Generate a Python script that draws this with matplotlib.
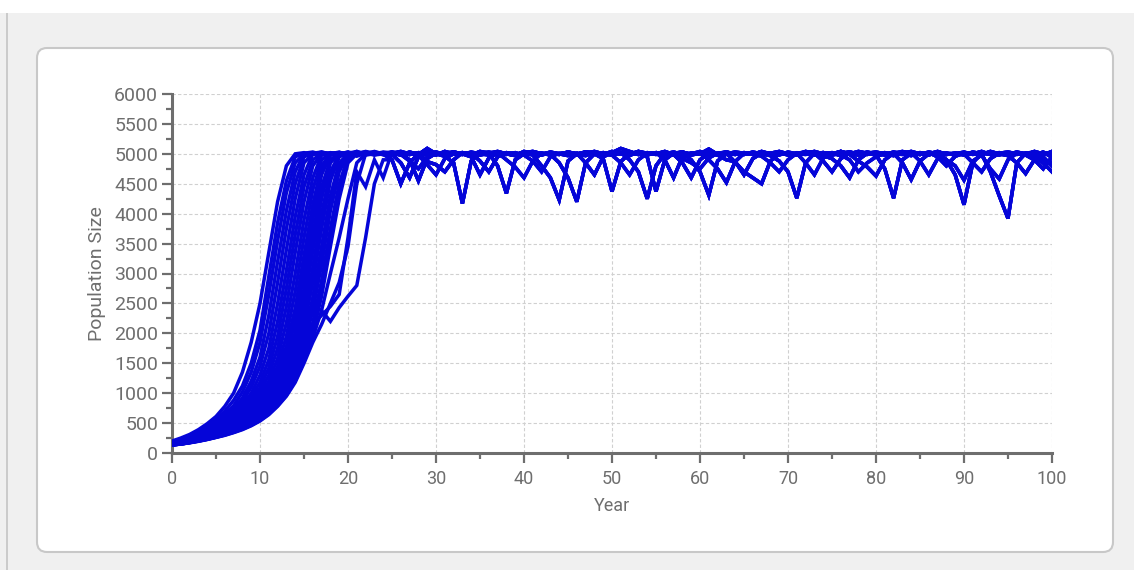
import matplotlib
matplotlib.use("Agg")
import matplotlib.pyplot as plt
from matplotlib.patches import FancyBboxPatch, Rectangle
from matplotlib.lines import Line2D
from matplotlib.ticker import MultipleLocator
from matplotlib.transforms import IdentityTransform
from matplotlib import font_manager

# ---- Data: simulated population runs ----
years = list(range(0, 101))

# growth phase, years 0..24 (fastest run first)
growth = [
    [200, 250, 310, 390, 490, 610, 780, 1000, 1350, 1850, 2500, 3350, 4200, 4800, 5000, 5020, 4990, 5030, 5000, 5010, 4980, 5040, 5000, 4990, 5020],
    [190, 235, 295, 365, 455, 560, 700, 880, 1120, 1500, 2050, 2950, 3850, 4550, 4950, 5010, 5030, 4990, 5000, 5020, 4970, 5010, 5030, 4990, 5000],
    [180, 225, 280, 345, 425, 520, 640, 790, 1020, 1350, 1850, 2650, 3550, 4350, 4850, 5000, 4990, 5020, 5000, 5030, 4980, 5000, 5040, 5010, 4990],
    [175, 215, 265, 325, 400, 490, 600, 735, 920, 1200, 1600, 2300, 3200, 4050, 4700, 5000, 5020, 4990, 5010, 5000, 5030, 4960, 5010, 5000, 5020],
    [170, 205, 255, 310, 380, 460, 560, 690, 860, 1100, 1450, 2000, 2850, 3750, 4500, 4950, 5010, 5030, 4990, 5000, 5010, 5040, 4980, 5000, 5010],
    [165, 200, 245, 300, 365, 440, 530, 650, 800, 1000, 1300, 1750, 2500, 3400, 4250, 4850, 5000, 5020, 4990, 5010, 4970, 5000, 5030, 5000, 4990],
    [165, 195, 240, 290, 350, 420, 510, 620, 760, 940, 1180, 1560, 2200, 3050, 3950, 4650, 5000, 4990, 5020, 5000, 5010, 4990, 5000, 5040, 5000],
    [160, 190, 230, 280, 335, 400, 485, 590, 720, 880, 1090, 1420, 1950, 2750, 3650, 4450, 4900, 5010, 4980, 5020, 5000, 5010, 4990, 5000, 5030],
    [155, 185, 225, 270, 320, 380, 460, 560, 680, 830, 1020, 1300, 1750, 2450, 3350, 4200, 4800, 5000, 5010, 4990, 5030, 5000, 5010, 4980, 5000],
    [155, 180, 220, 265, 310, 365, 440, 535, 645, 790, 960, 1200, 1580, 2180, 3000, 3900, 4600, 4980, 5000, 5020, 4990, 5000, 5010, 5030, 4990],
    [150, 175, 210, 255, 300, 350, 420, 510, 615, 745, 905, 1120, 1450, 1950, 2700, 3600, 4400, 4900, 5010, 5000, 5010, 4980, 5000, 5010, 5020],
    [150, 175, 205, 245, 290, 335, 400, 485, 585, 705, 855, 1050, 1340, 1780, 2420, 3300, 4150, 4800, 5000, 5010, 5000, 5020, 4990, 5000, 5010],
    [148, 172, 202, 242, 285, 328, 392, 472, 570, 688, 832, 1020, 1295, 1705, 2310, 3150, 4030, 4730, 4990, 5000, 5010, 4990, 5000, 5020, 5000],
    [145, 170, 200, 240, 280, 320, 385, 460, 555, 670, 810, 990, 1250, 1630, 2200, 3000, 3900, 4650, 4980, 5010, 5020, 5000, 5010, 4990, 5000],
    [145, 165, 195, 230, 270, 310, 370, 440, 530, 635, 765, 935, 1170, 1510, 2020, 2750, 3650, 4450, 4900, 5010, 4980, 5010, 5000, 5030, 5000],
    [142, 165, 192, 228, 265, 305, 362, 430, 518, 620, 745, 910, 1135, 1455, 1935, 2625, 3515, 4350, 4880, 5000, 5020, 4990, 5010, 5000, 4990],
    [140, 165, 190, 225, 260, 300, 355, 420, 505, 605, 725, 885, 1100, 1400, 1850, 2500, 3380, 4250, 4850, 5000, 5010, 5000, 4990, 5010, 5000],
    [140, 160, 185, 220, 255, 290, 340, 400, 480, 575, 690, 840, 1040, 1310, 1720, 2300, 3100, 4000, 4700, 4990, 4990, 5020, 5000, 5000, 5010],
    [140, 160, 185, 218, 252, 288, 335, 395, 470, 562, 672, 818, 1010, 1270, 1660, 2210, 2975, 3875, 4630, 4970, 5000, 5010, 4990, 5000, 5020],
    [140, 160, 185, 215, 250, 285, 330, 390, 460, 550, 655, 795, 980, 1230, 1600, 2120, 2850, 3750, 4550, 4950, 5010, 5000, 5010, 4990, 5000],
    [135, 155, 180, 210, 245, 280, 325, 380, 445, 525, 625, 755, 930, 1160, 1500, 1950, 2600, 3450, 4300, 4850, 5000, 5010, 5000, 5020, 4990],
    [135, 155, 180, 210, 242, 278, 322, 375, 438, 515, 612, 738, 905, 1125, 1450, 1875, 2490, 3300, 4175, 4780, 5000, 5010, 5000, 4990, 5010],
    [135, 155, 180, 210, 240, 275, 320, 370, 430, 505, 600, 720, 880, 1090, 1400, 1800, 2380, 3150, 4050, 4700, 4990, 4990, 5020, 5000, 5010],
    [135, 150, 175, 205, 235, 270, 310, 360, 415, 485, 575, 690, 840, 1030, 1310, 1680, 2180, 2880, 3750, 4500, 4950, 5000, 4990, 5000, 5020],
    [135, 150, 175, 202, 232, 268, 308, 355, 410, 478, 565, 675, 820, 1005, 1270, 1625, 2090, 2750, 3600, 4375, 4900, 5000, 5010, 5000, 4990],
    [135, 150, 175, 200, 230, 265, 305, 350, 405, 470, 555, 660, 800, 980, 1230, 1570, 2000, 2620, 3450, 4250, 4850, 5000, 5020, 4990, 5000],
    [135, 150, 172, 198, 228, 262, 300, 345, 398, 462, 545, 650, 790, 965, 1205, 1535, 1925, 2385, 3000, 3600, 4250, 4850, 5000, 5010, 4990],
    [135, 150, 170, 195, 225, 260, 295, 340, 390, 455, 535, 640, 780, 950, 1180, 1500, 1850, 2150, 2500, 2850, 3450, 4500, 5000, 4990, 5000],
    [145, 170, 195, 230, 270, 315, 375, 445, 535, 645, 780, 950, 1150, 1450, 1800, 2200, 2450, 2380, 2200, 2430, 2620, 2800, 3600, 4500, 4900],
    [140, 160, 185, 215, 250, 290, 340, 400, 470, 560, 670, 810, 1000, 1300, 1650, 1950, 2150, 2300, 2450, 2650, 3600, 4700, 4450, 4900, 4600],
]

# steady phase, years 25..100
plateau = [
    [5010, 4980, 5030, 4990, 5090, 5000, 4960, 4850, 4170, 4880,
     5020, 4990, 5030, 5000, 4970, 5040, 5010, 4980, 5020, 4990,
     5030, 5000, 4970, 5020, 4990, 5040, 5000, 4980, 5030, 4950,
     4370, 4900, 5010, 5030, 4990, 5000, 5040, 4980, 5020, 5000,
     4990, 5030, 5000, 4970, 4880, 4700, 4260, 4850, 5010, 5020,
     4990, 5040, 5000, 4980, 5020, 5010, 4990, 5030, 5000, 4970,
     5020, 5000, 5040, 4990, 5010, 4980, 5030, 5000, 4700, 4300,
     3920, 4850, 5010, 4980, 5030, 4940],
    [4990, 4850, 4600, 4950, 5010, 5030, 4990, 5020, 5000, 4980,
     5040, 5010, 4800, 4340, 4900, 5000, 5020, 4990, 5030, 5000,
     4970, 5010, 4850, 4650, 4950, 5020, 5090, 5040, 4990, 5010,
     5000, 5030, 4980, 5010, 4900, 4700, 4310, 4880, 5000, 5030,
     5010, 4990, 5040, 5000, 5020, 4980, 5010, 5030, 4990, 5000,
     5020, 4970, 5000, 5040, 5010, 4980, 4750, 4260, 4900, 5010,
     4990, 5030, 5000, 5010, 4980, 5020, 5000, 5040, 4990, 5010,
     5030, 5000, 4980, 4900, 4750, 4950],
    [5020, 5000, 4900, 4550, 4920, 5010, 4990, 5030, 5000, 5020,
     4980, 5010, 5040, 5000, 4990, 5020, 4980, 4800, 4600, 4230,
     4880, 5000, 5030, 5010, 4990, 5020, 5000, 4970, 5040, 5010,
     4990, 5020, 5000, 5030, 4980, 5010, 4900, 4750, 4520, 4870,
     5010, 5000, 5030, 4990, 5020, 5000, 4980, 5040, 5010, 4880,
     4700, 4920, 5010, 4990, 5030, 5000, 5020, 4980, 5010, 5040,
     5000, 4990, 5030, 4900, 4650, 4150, 4850, 5010, 5000, 5020,
     4990, 5030, 5000, 4960, 4850, 4700],
    [5000, 5030, 4990, 5010, 4870, 4820, 4700, 4900, 5020, 5000,
     5010, 4990, 5030, 5000, 4980, 5020, 5040, 5000, 4990, 4850,
     4600, 4200, 4850, 5000, 5020, 4990, 5010, 5030, 5000, 4980,
     5020, 4900, 4600, 4950, 5010, 5000, 5080, 4990, 5010, 4860,
     4700, 4600, 4500, 4880, 5000, 5020, 4990, 5010, 5040, 5000,
     4980, 5010, 5030, 5000, 4990, 5020, 5000, 4970, 5030, 5010,
     4990, 5020, 4950, 4800, 4960, 5010, 5000, 5030, 4990, 5010,
     5000, 5020, 4980, 5040, 5000, 5010],
    [4900, 4500, 4850, 5000, 5020, 4990, 5010, 5030, 5000, 4950,
     4650, 4930, 5010, 5000, 4980, 5030, 5010, 4990, 5020, 5000,
     5010, 4980, 5030, 5000, 4920, 4370, 4870, 5010, 4990, 5020,
     5000, 5040, 4990, 4850, 4600, 4900, 5010, 5000, 5030, 4990,
     5020, 5000, 4980, 5010, 5040, 5000, 4990, 5020, 5000, 4970,
     4920, 4800, 4600, 4900, 5010, 5030, 5000, 4990, 5020, 5000,
     5010, 4980, 5030, 5000, 4990, 5020, 5010, 4990, 5040, 5000,
     4970, 4850, 4670, 4900, 5000, 5030],
    [5030, 5000, 4990, 5020, 5010, 4980, 5040, 5000, 4990, 5010,
     4880, 4700, 4950, 5020, 5000, 4990, 5030, 5010, 4980, 5000,
     5020, 4990, 5010, 5040, 5000, 4980, 5020, 4900, 4700, 4250,
     4800, 5000, 5030, 4990, 5010, 5000, 5020, 4980, 4900, 4870,
     4650, 4920, 5010, 5000, 5030, 4990, 5010, 5000, 4980, 5020,
     5000, 5040, 4990, 4880, 4780, 4630, 4900, 5010, 4850, 4570,
     4880, 5000, 5020, 4990, 5010, 5000, 4850, 4700, 4920, 5010,
     5000, 5020, 4990, 5010, 4980, 5040],
    [5000, 4990, 4880, 4750, 4950, 5020, 5000, 5010, 4990, 5030,
     5000, 4980, 5020, 4900, 4780, 4600, 4880, 5010, 5000, 4990,
     5030, 5000, 5010, 4990, 5020, 4980, 4850, 4650, 4900, 5010,
     5000, 5030, 4990, 5010, 5000, 5040, 4980, 5010, 5000, 4990,
     5020, 5000, 4960, 4850, 4700, 4900, 5010, 4850, 4650, 4930,
     5010, 5000, 5030, 4990, 5020, 5000, 4980, 5010, 5040, 5000,
     4990, 5020, 5000, 4900, 4800, 4560, 4880, 4980, 4750, 4580,
     4900, 5010, 5000, 5030, 4950, 4800],
    [5010, 5040, 5000, 4980, 4820, 4650, 4920, 5000, 5020, 4990,
     5010, 5030, 5000, 4990, 5020, 4980, 4880, 4700, 4950, 5010,
     5000, 4990, 5030, 5010, 5000, 4990, 5020, 5000, 5040, 4990,
     5010, 4980, 5000, 4920, 4850, 4750, 4930, 5010, 5030, 5000,
     4990, 5020, 5000, 5010, 4980, 5030, 5000, 4990, 5010, 5020,
     5000, 4980, 4900, 4700, 4850, 4950, 5010, 5000, 4990, 5020,
     4880, 4650, 4920, 5010, 5000, 5030, 4990, 5010, 5000, 4980,
     5020, 4990, 5010, 5030, 4900, 4850],
]

x_ticks = list(range(0, 101, 10))
y_ticks = list(range(0, 6001, 500))

# ---- fonts ----
available = {f.name for f in font_manager.fontManager.ttflist}
label_font = "Roboto" if "Roboto" in available else "DejaVu Sans"

W, H = 1134, 570
fig = plt.figure(figsize=(W / 100, H / 100), dpi=100, facecolor="#f0f0f0")

# page decoration (pixel coords, origin bottom-left), kept behind the axes
fig.patches.append(Rectangle((0, H - 13), W, 13, transform=IdentityTransform(),
                             facecolor="white", edgecolor="none", zorder=-2))
fig.lines.append(Line2D([7, 7], [0, H - 13], transform=IdentityTransform(),
                        color="#c4c4c4", lw=1.2, zorder=-2))
fig.patches.append(FancyBboxPatch((37, H - 552), 1076, 504,
                                  boxstyle="round,pad=0,rounding_size=10",
                                  transform=IdentityTransform(),
                                  facecolor="white", edgecolor="#c8c8c8", lw=1.5, zorder=-1))

ax = fig.add_axes([172 / W, 117 / H, 880 / W, 359 / H])
ax.set_facecolor("white")
ax.set_zorder(1)

for i, g in enumerate(growth):
    series = g + plateau[i % len(plateau)]
    ax.plot(years, series, color="#0505d8", lw=2.5, solid_joinstyle="miter", zorder=3)

ax.set_xlim(0, 100)
ax.set_ylim(0, 6000)
ax.set_xticks(x_ticks)
ax.set_yticks(y_ticks)
ax.xaxis.set_minor_locator(MultipleLocator(5))
ax.yaxis.set_minor_locator(MultipleLocator(250))

ax.grid(True, which="major", color="#d0d0d0", linestyle=(0, (3, 2)), lw=0.8, zorder=0)

for side in ["top", "right"]:
    ax.spines[side].set_visible(False)
for side in ["left", "bottom"]:
    ax.spines[side].set_color("#6e6e6e")
    ax.spines[side].set_linewidth(2.2)

ax.tick_params(axis="both", which="major", color="#6e6e6e", length=7, width=1.6,
               labelcolor="#6e6e6e", labelsize=14, pad=3)
ax.tick_params(axis="both", which="minor", color="#6e6e6e", length=4, width=1.6)
ax.tick_params(axis="x", which="major", labelsize=13, pad=5)

for lab in ax.get_yticklabels() + ax.get_xticklabels():
    lab.set_fontfamily(label_font)

ax.set_xlabel("Year", fontsize=13, color="#6e6e6e", family=label_font, labelpad=7)
ax.set_ylabel("Population Size", fontsize=14, color="#6e6e6e", family=label_font, labelpad=6)

fig.savefig("out.png", dpi=100, facecolor=fig.get_facecolor())
